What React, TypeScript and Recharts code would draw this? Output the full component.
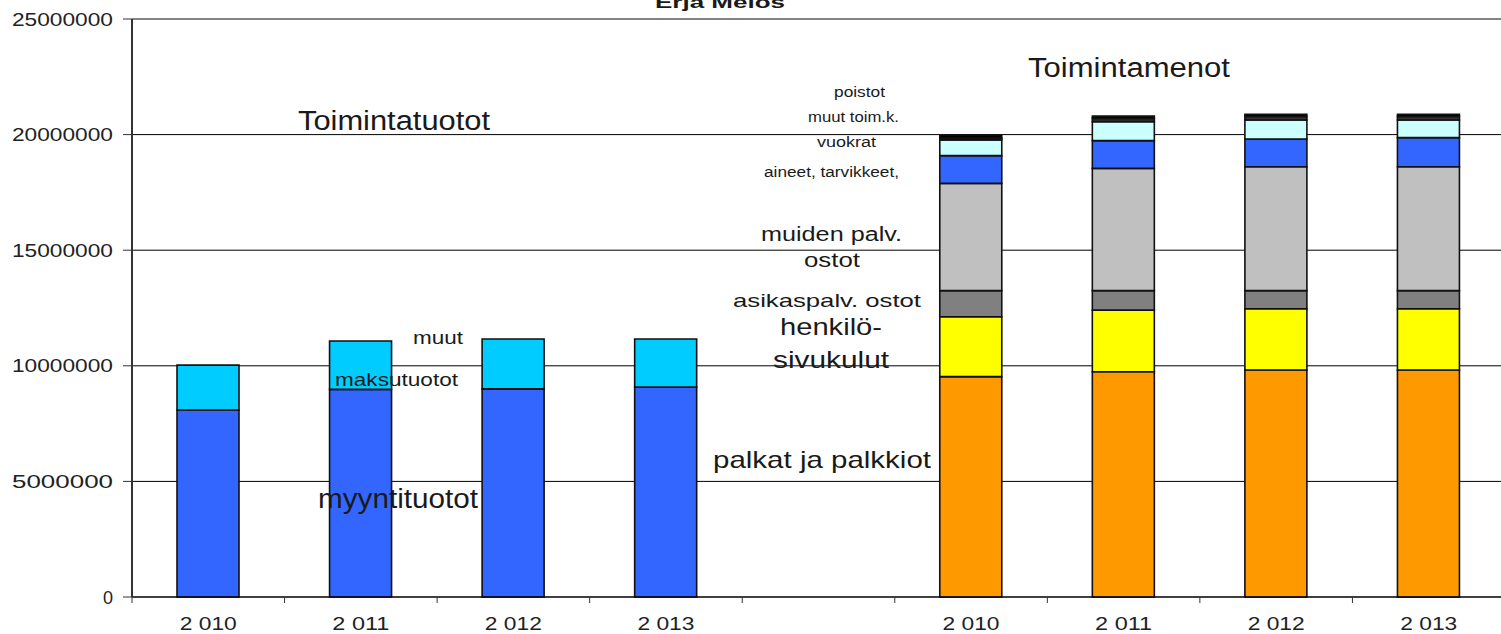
import React from "react";
import { BarChart, Bar, XAxis, YAxis, CartesianGrid, ReferenceLine } from "recharts";

const W = 1501;
const H = 634;
const PLOT_LEFT = 132;
const PLOT_RIGHT_OVER = 4;
const PLOT_BOTTOM = 597;
const SLOT = (W - PLOT_LEFT + PLOT_RIGHT_OVER) / 9;
const FONT = "'Liberation Sans', Arial, sans-serif";

// income side (Toimintatuotot)
const incomeYears = ["2 010", "2 011", "2 012", "2 013"];
const myyntituotot = [8090000, 8980000, 9000000, 9080000];
const muutMaksutuotot = [1940000, 2090000, 2160000, 2080000];

// expense side (Toimintamenot)
const expenseYears = ["2 010", "2 011", "2 012", "2 013"];
const palkat = [9530000, 9740000, 9820000, 9820000];
const henkilosivukulut = [2590000, 2670000, 2650000, 2650000];
const asiakaspalvOstot = [1130000, 840000, 780000, 780000];
const muidenPalvOstot = [4640000, 5290000, 5360000, 5360000];
const aineet = [1200000, 1200000, 1200000, 1260000];
const vuokrat = [680000, 820000, 820000, 760000];
const muutToimK = [80000, 140000, 150000, 150000];
const poistot = [130000, 100000, 100000, 100000];

const yTicks = [0, 5000000, 10000000, 15000000, 20000000, 25000000];

const emptyExp = { palkat: 0, henk: 0, asiak: 0, muiden: 0, aineet: 0, vuokrat: 0, muutToim: 0, poistot: 0 };

const rows = [
  ...incomeYears.map((label, i) => ({
    label, myynti: myyntituotot[i], muutMaksu: muutMaksutuotot[i], ...emptyExp,
  })),
  { label: "", myynti: 0, muutMaksu: 0, ...emptyExp },
  ...expenseYears.map((label, i) => ({
    label, myynti: 0, muutMaksu: 0,
    palkat: palkat[i], henk: henkilosivukulut[i], asiak: asiakaspalvOstot[i],
    muiden: muidenPalvOstot[i], aineet: aineet[i], vuokrat: vuokrat[i],
    muutToim: muutToimK[i], poistot: poistot[i],
  })),
];

const series = [
  { key: "myynti", color: "#3366FF" },
  { key: "muutMaksu", color: "#00CCFF" },
  { key: "palkat", color: "#FF9900" },
  { key: "henk", color: "#FFFF00" },
  { key: "asiak", color: "#808080" },
  { key: "muiden", color: "#C0C0C0" },
  { key: "aineet", color: "#3366FF" },
  { key: "vuokrat", color: "#CCFFFF" },
  { key: "muutToim", color: "#333333" },
  { key: "poistot", color: "#000000" },
];

// text annotations placed on the chart
const notes = [
  { t: "Erja Melos", x: 655, y: 8, s: 17, len: 130, bold: true },
  { t: "Toimintatuotot", x: 298, y: 129.5, s: 27, len: 192 },
  { t: "Toimintamenot", x: 1028, y: 77, s: 27, len: 202 },
  { t: "poistot", x: 834, y: 97, s: 14, len: 51 },
  { t: "muut toim.k.", x: 808, y: 122, s: 14, len: 91 },
  { t: "vuokrat", x: 817, y: 146.5, s: 14, len: 59 },
  { t: "aineet, tarvikkeet,", x: 764, y: 176.5, s: 14, len: 135 },
  { t: "muiden palv.", x: 761, y: 240.5, s: 20, len: 141 },
  { t: "ostot", x: 804, y: 267, s: 20, len: 56 },
  { t: "asikaspalv. ostot", x: 733, y: 306.5, s: 19, len: 188 },
  { t: "henkilö-", x: 780, y: 335, s: 24, len: 102 },
  { t: "sivukulut", x: 773, y: 368, s: 24, len: 116 },
  { t: "palkat ja palkkiot", x: 713, y: 468, s: 24, len: 218 },
  { t: "muut", x: 413, y: 344, s: 18, len: 50 },
  { t: "maksutuotot", x: 335, y: 385.5, s: 19, len: 123 },
  { t: "myyntituotot", x: 318, y: 507.5, s: 27, len: 160 },
];

function YTick(props: any) {
  const { y, payload } = props;
  return (
    <text x={113} y={y + 6.5} textAnchor="end" fontSize={18} fill="#222" fontFamily={FONT}
      textLength={payload.value === 0 ? undefined : 101} lengthAdjust="spacingAndGlyphs">
      {String(payload.value)}
    </text>
  );
}

function XTick(props: any) {
  const { x, payload } = props;
  const left = x - SLOT / 2;
  return (
    <g>
      <line x1={left} x2={left} y1={PLOT_BOTTOM} y2={PLOT_BOTTOM + 6} stroke="#333" />
      {payload.value ? (
        <text x={x} y={629.5} textAnchor="middle" fontSize={18} fill="#222" fontFamily={FONT}
          textLength={57} lengthAdjust="spacingAndGlyphs">
          {payload.value}
        </text>
      ) : null}
    </g>
  );
}

export default function App() {
  return (
    <div style={{ position: "absolute", left: 0, top: 0, width: W, height: H, background: "#fff" }}>
      <BarChart width={W} height={H} data={rows} barSize={62}
        margin={{ top: 19, right: -PLOT_RIGHT_OVER, left: 0, bottom: 0 }}>
        <CartesianGrid vertical={false} stroke="#000" />
        <ReferenceLine y={25000000} stroke="#888" />
        <XAxis dataKey="label" height={37} interval={0} tickLine={false}
          axisLine={{ stroke: "#000" }} tick={<XTick />} />
        <YAxis width={132} domain={[0, 25000000]} ticks={yTicks} tickSize={9}
          axisLine={{ stroke: "#333", strokeWidth: 2 }} tickLine={{ stroke: "#333" }} tick={<YTick />} />
        {series.map((s) => (
          <Bar key={s.key} dataKey={s.key} stackId="s" fill={s.color} stroke="#111" strokeWidth={1.6}
            isAnimationActive={false} />
        ))}
      </BarChart>
      <svg width={W} height={H} style={{ position: "absolute", left: 0, top: 0, pointerEvents: "none" }}>
        {notes.map((n) => (
          <text key={n.t} x={n.x} y={n.y} fontSize={n.s} fontFamily={FONT} fill="#1a1a1a"
            fontWeight={n.bold ? "bold" : "normal"} textLength={n.len} lengthAdjust="spacingAndGlyphs">
            {n.t}
          </text>
        ))}
      </svg>
    </div>
  );
}
